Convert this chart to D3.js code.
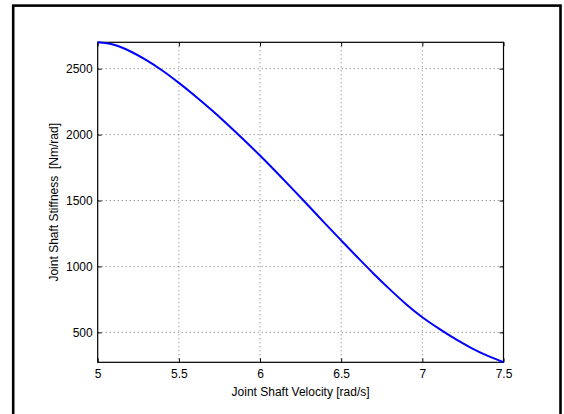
<!DOCTYPE html>
<html>
<head>
<meta charset="utf-8">
<script src="https://cdn.jsdelivr.net/npm/d3@7"></script>
<style>
  html, body { margin: 0; padding: 0; background: #fff; }
  svg { display: block; }
  text { font-family: "Liberation Sans", Arial, Helvetica, sans-serif; fill: #000; }
</style>
</head>
<body>
<svg id="chart" width="564" height="414"></svg>
<script>
// Joint shaft stiffness as a function of joint shaft velocity
const velocity = [5.0, 5.1, 5.2, 5.3, 5.4, 5.5, 5.6, 5.7, 5.8, 5.9,
                  6.0, 6.1, 6.2, 6.3, 6.4, 6.5, 6.6, 6.7, 6.8, 6.9,
                  7.0, 7.1, 7.2, 7.3, 7.4, 7.5];
const stiffness = [2700, 2681, 2632, 2564, 2484, 2392, 2293, 2188, 2077, 1961,
                   1841, 1716, 1588, 1458, 1327, 1198, 1070, 945, 826, 714,
                   615, 530, 452, 383, 323, 273];
const xTicks = [5, 5.5, 6, 6.5, 7, 7.5];
const yTicks = [500, 1000, 1500, 2000, 2500];
const xLabel = "Joint Shaft Velocity [rad/s]";
const yLabel = "Joint Shaft Stiffness  [Nm/rad]";

const svg = d3.select("#chart");
const plotL = 97.7, plotR = 503.5, plotT = 42.3, plotB = 362.3;

const x = d3.scaleLinear().domain([5, 7.5]).range([plotL, plotR]);
const y = d3.scaleLinear().domain([d3.min(stiffness), d3.max(stiffness)]).range([plotB, plotT]);

// figure frame
svg.append("rect")
  .attr("x", 13.2).attr("y", 5.6)
  .attr("width", 547.3).attr("height", 430)
  .attr("fill", "none").attr("stroke", "#000").attr("stroke-width", 2.6);

// dotted grid
const grid = svg.append("g").attr("stroke", "#555").attr("stroke-width", 0.8)
  .attr("stroke-dasharray", "1,3");
grid.selectAll("line.gx").data(xTicks.slice(1, -1)).join("line")
  .attr("x1", d => x(d)).attr("x2", d => x(d))
  .attr("y1", plotT).attr("y2", plotB);
grid.selectAll("line.gy").data(yTicks).join("line")
  .attr("x1", plotL).attr("x2", plotR)
  .attr("y1", d => y(d)).attr("y2", d => y(d));

// axes with inward ticks on all four sides
const tickLen = 4;
const axB = svg.append("g").attr("transform", `translate(0,${plotB})`)
  .call(d3.axisBottom(x).tickValues(xTicks).tickSizeInner(-tickLen).tickSizeOuter(0).tickPadding(7.5)
    .tickFormat(d3.format("")));
const axT = svg.append("g").attr("transform", `translate(0,${plotT})`)
  .call(d3.axisTop(x).tickValues(xTicks).tickSizeInner(-tickLen).tickSizeOuter(0).tickFormat(""));
const axL = svg.append("g").attr("transform", `translate(${plotL},0)`)
  .call(d3.axisLeft(y).tickValues(yTicks).tickSizeInner(-tickLen).tickSizeOuter(0).tickPadding(5)
    .tickFormat(d3.format("")));
const axR = svg.append("g").attr("transform", `translate(${plotR},0)`)
  .call(d3.axisRight(y).tickValues(yTicks).tickSizeInner(-tickLen).tickSizeOuter(0).tickFormat(""));

[axB, axT, axL, axR].forEach(g => {
  g.select(".domain").remove();
  g.selectAll(".tick line").attr("stroke", "#000").attr("stroke-width", 1);
  g.selectAll("text").attr("font-size", 12).attr("fill", "#000")
    .attr("font-family", '"Liberation Sans", Arial, Helvetica, sans-serif');
});

// axes box
svg.append("rect")
  .attr("x", plotL).attr("y", plotT)
  .attr("width", plotR - plotL).attr("height", plotB - plotT)
  .attr("fill", "none").attr("stroke", "#000").attr("stroke-width", 1.2);

// stiffness curve
const line = d3.line()
  .x((d, i) => x(velocity[i]))
  .y(d => y(d))
  .curve(d3.curveMonotoneX);
svg.append("path")
  .datum(stiffness)
  .attr("d", line)
  .attr("fill", "none")
  .attr("stroke", "#0000ff")
  .attr("stroke-width", 2);

// axis titles
svg.append("text")
  .attr("x", (plotL + plotR) / 2).attr("y", 396)
  .attr("text-anchor", "middle").attr("font-size", 12)
  .text(xLabel);
svg.append("text")
  .attr("transform", `translate(57.5,${(plotT + plotB) / 2}) rotate(-90)`)
  .attr("text-anchor", "middle").attr("font-size", 12)
  .style("white-space", "pre")
  .text(yLabel);
</script>
</body>
</html>
